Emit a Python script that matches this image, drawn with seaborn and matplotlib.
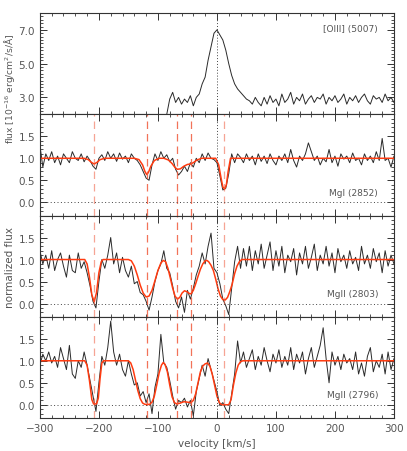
import numpy as np
import pandas as pd
import matplotlib
matplotlib.use("Agg")
import matplotlib.pyplot as plt
from matplotlib.ticker import MultipleLocator
import seaborn as sns

# velocity grid of the normalized spectra (km/s)
vel = np.arange(-300, 301, 5)

# [OIII] 5007 flux, starts at -85 km/s
oiii_v = np.arange(-85, 301, 5)
oiii_flux = [2.0, 2.9, 3.3, 2.7, 3.0, 2.6, 2.9, 2.7, 3.1, 2.5, 3.0, 3.2, 3.8, 4.2, 5.2, 6.0, 6.8, 7.0,
             6.7, 6.4, 5.8, 5.0, 4.3, 3.8, 3.5, 3.3, 3.1, 2.9, 2.8, 2.6, 3.0, 2.7, 2.5, 3.0, 2.6, 3.1,
             2.7, 2.9, 2.5, 3.2, 2.7, 2.9, 3.3, 2.6, 3.0, 2.8, 3.2, 2.6, 2.9, 3.1, 2.7, 3.0, 2.9, 3.2,
             2.6, 3.0, 2.8, 3.1, 2.7, 2.9, 3.2, 2.6, 3.0, 2.8, 3.1, 2.7, 3.0, 3.2, 2.8, 2.6, 3.1, 2.9,
             3.0, 2.7, 3.2, 2.8, 3.0, 2.7]

mgi_flux = [1.3, 0.8, 1.1, 0.95, 1.15, 0.9, 1.05, 0.85, 1.1, 1.0, 0.9, 1.15, 1.0, 0.95, 1.1, 0.92,
            1.05, 0.95, 0.82, 0.75, 1.0, 1.08, 0.95, 1.15, 1.0, 1.1, 0.93, 1.12, 0.98, 1.05, 0.9, 1.1,
            1.0, 0.95, 0.85, 0.7, 0.55, 0.5, 0.85, 1.1, 0.95, 1.15, 1.0, 1.08, 0.92, 1.0, 0.75, 0.62,
            0.7, 0.82, 0.7, 0.9, 0.8, 1.0, 0.9, 1.1, 0.95, 1.12, 1.0, 0.97, 0.9, 0.6, 0.28, 0.32,
            0.65, 1.1, 0.9, 1.1, 1.02, 0.9, 1.1, 0.95, 1.05, 0.85, 1.1, 0.93, 1.05, 0.88, 1.1, 0.95,
            0.85, 1.05, 0.95, 1.1, 0.9, 1.2, 0.95, 0.8, 1.05, 0.95, 1.1, 1.35, 1.15, 0.95, 1.05, 0.85,
            1.0, 0.92, 1.2, 0.9, 1.05, 0.82, 1.1, 0.98, 1.05, 0.9, 1.12, 0.95, 1.0, 0.85, 1.1, 0.95,
            1.05, 0.9, 1.15, 0.95, 1.45, 0.95, 1.0, 0.8, 1.05]

mgii2803_flux = [1.2, 0.9, 1.1, 0.8, 1.2, 0.75, 1.0, 1.15, 0.85, 0.6, 1.1, 0.75, 0.7, 1.15, 0.8, 0.95,
                 0.7, 0.4, 0.05, -0.1, 0.5, 1.0, 0.8, 1.1, 1.5, 0.9, 1.15, 0.7, 1.05, 0.75, 0.6, 0.85,
                 0.45, 0.5, 0.25, 0.2, 0.05, -0.15, 0.15, 0.5, 0.75, 0.9, 1.2, 0.8, 0.7, 0.4, 0.05, -0.1,
                 0.15, -0.2, 0.3, 0.1, 0.35, 0.65, 0.85, 1.15, 0.9, 1.3, 1.6, 0.8, 0.7, 0.45, 0.1, -0.05,
                 -0.25, 0.35, 0.95, 1.3, 0.8, 1.25, 0.85, 1.3, 0.75, 1.2, 0.9, 1.35, 0.8, 1.1, 1.4, 0.75,
                 1.2, 0.85, 1.3, 0.7, 1.1, 0.95, 1.25, 0.65, 1.15, 0.9, 1.3, 0.8, 1.05, 1.35, 0.75, 1.1,
                 0.9, 1.3, 0.85, 1.15, 0.7, 1.25, 0.95, 1.1, 0.8, 1.2, 0.9, 1.05, 0.75, 1.3, 0.9, 1.1,
                 0.8, 1.25, 0.95, 1.15, 0.7, 1.2, 0.85, 1.1, 0.9]

mgii2796_flux = [0.9, 1.15, 1.0, 1.2, 0.95, 1.1, 0.85, 1.3, 1.05, 0.8, 1.35, 0.7, 0.6, 1.0, 0.85, 1.2,
                 0.9, 0.55, 0.2, -0.15, 0.5, 1.1, 0.9, 1.3, 1.9, 1.2, 0.9, 1.15, 0.8, 0.65, 1.0, 0.7,
                 0.45, 0.5, 0.2, 0.3, 0.05, 0.25, -0.2, 0.4, 0.7, 1.6, 0.95, 0.85, 0.55, 0.2, -0.1, 0.1,
                 0.05, 0.15, -0.05, 0.1, -0.25, 0.3, 0.6, 0.9, 0.65, 1.05, 0.8, 0.55, 0.3, -0.02, 0.05, -0.1,
                 -0.2, 0.25, 0.7, 1.45, 0.95, 1.2, 0.85, 1.05, 1.25, 0.8, 1.1, 0.9, 1.3, 1.0, 0.75, 1.15,
                 0.95, 1.25, 0.85, 1.1, 0.9, 1.3, 0.8, 1.15, 0.95, 1.2, 0.7, 1.05, 1.3, 0.85, 1.1, 1.35,
                 1.75, 1.05, 0.5, 1.2, 0.9, 1.1, 0.8, 1.15, 0.95, 1.05, 0.8, 1.2, 0.7, 0.95, 0.65, 1.1,
                 1.3, 0.75, 1.0, 0.85, 1.15, 0.7, 1.2, 0.8, 1.05]

# model fits
mgi_fit_v = [-300, -225, -218, -213, -208, -203, -198, -190, -140, -132, -126, -122, -119, -116, -112,
             -106, -98, -90, -82, -76, -71, -67, -62, -56, -50, -45, -40, -34, -26, -2, 3, 7, 10, 13,
             16, 19, 23, 300]
mgi_fit = [1.0, 1.0, 0.97, 0.91, 0.87, 0.91, 0.97, 1.0, 1.0, 0.97, 0.85, 0.70, 0.63, 0.68, 0.82,
           0.95, 1.0, 1.0, 0.96, 0.88, 0.79, 0.75, 0.76, 0.82, 0.86, 0.87, 0.90, 0.96, 1.0, 1.0, 0.85,
           0.55, 0.35, 0.30, 0.40, 0.70, 1.0, 1.0]

mgii2803_fit_v = [-300, -224, -220, -216, -212, -208, -204, -200, -196, -193, -150, -145, -140, -135,
                  -130, -125, -120, -115, -110, -105, -100, -95, -91, -87, -83, -79, -75, -71, -67,
                  -63, -59, -55, -51, -47, -44, -40, -36, -32, -28, -24, -20, -17, -14, -10, -6, -2,
                  2, 6, 10, 14, 18, 22, 26, 30, 34, 38, 42, 300]
mgii2803_fit = [1.0, 1.0, 0.9, 0.6, 0.2, 0.04, 0.25, 0.7, 0.95, 1.0, 1.0, 0.97, 0.85, 0.65,
                0.42, 0.24, 0.15, 0.17, 0.3, 0.52, 0.75, 0.92, 0.98, 0.95, 0.8, 0.58, 0.35, 0.17, 0.1,
                0.14, 0.24, 0.29, 0.27, 0.23, 0.22, 0.3, 0.45, 0.62, 0.78, 0.9, 0.97, 0.98, 0.95, 0.87,
                0.75, 0.55, 0.33, 0.17, 0.09, 0.08, 0.14, 0.28, 0.45, 0.68, 0.85, 0.95, 1.0, 1.0]

mgii2796_fit_v = [-300, -224, -220, -216, -212, -209, -204, -201, -198, -195, -192, -150, -146, -142,
                  -138, -134, -130, -126, -122, -114, -110, -106, -102, -98, -94, -91, -88, -84, -80,
                  -76, -72, -68, -62, -56, -50, -44, -40, -36, -32, -28, -24, -20, -16, -12, -8, -4,
                  0, 4, 8, 20, 24, 28, 32, 36, 40, 44, 300]
mgii2796_fit = [1.0, 1.0, 0.9, 0.55, 0.12, 0.02, 0.02, 0.15, 0.6, 0.95, 1.0, 1.0, 0.95, 0.8,
                0.56, 0.32, 0.14, 0.04, 0.01, 0.01, 0.06, 0.2, 0.45, 0.72, 0.9, 0.96, 0.92, 0.75, 0.45,
                0.18, 0.05, 0.02, 0.04, 0.07, 0.06, 0.05, 0.1, 0.25, 0.5, 0.75, 0.88, 0.93, 0.95, 0.88,
                0.7, 0.45, 0.2, 0.05, 0.0, 0.0, 0.12, 0.45, 0.72, 0.9, 0.98, 1.0, 1.0]

components = [-208, -119, -67, -44, 12]
comp_alpha = [0.55, 0.85, 0.85, 0.85, 0.55]

line_names = ["MgI (2852)", "MgII (2803)", "MgII (2796)"]

sns.set_style("ticks")
plt.rcParams["font.family"] = ["DejaVu Sans"]
grey = "#555555"
plt.rcParams.update({
    "axes.edgecolor": "#333333",
    "axes.linewidth": 0.8,
    "xtick.color": "#333333",
    "ytick.color": "#333333",
    "xtick.labelcolor": grey,
    "ytick.labelcolor": grey,
    "xtick.labelsize": 7.5,
    "ytick.labelsize": 7.5,
})

fig, axes = plt.subplots(4, 1, figsize=(4.07, 4.52), dpi=100, sharex=True)
fig.subplots_adjust(left=0.098, right=0.968, top=0.969, bottom=0.073, hspace=0)

spec_col = "#2a2a2a"
fit_col = "#ff3b10"

# top panel: [OIII]
ax = axes[0]
df = pd.DataFrame({"v": oiii_v, "f": oiii_flux})
sns.lineplot(data=df, x="v", y="f", ax=ax, color=spec_col, lw=0.7)
ax.set_ylim(2.0, 8.0)
ax.yaxis.set_minor_locator(MultipleLocator(0.2))
ax.set_yticks([3, 5, 7])
ax.set_yticklabels(["3.0", "5.0", "7.0"])
ax.axvline(0, color="#444444", ls=(0, (1, 2)), lw=0.7)
ax.text(0.955, 0.85, "[OIII] (5007)", transform=ax.transAxes, ha="right", va="center",
        fontsize=6.5, color=grey)
ax.set_ylabel("flux [10$^{-16}$ erg/cm$^2$/s/Å]", fontsize=6.6, color=grey)
ax.yaxis.set_label_coords(-0.066, 0.26)

spectra = [mgi_flux, mgii2803_flux, mgii2796_flux]
fits = [(mgi_fit_v, mgi_fit), (mgii2803_fit_v, mgii2803_fit), (mgii2796_fit_v, mgii2796_fit)]

for k in range(3):
    ax = axes[k + 1]
    df = pd.DataFrame({"v": vel, "f": spectra[k]})
    sns.lineplot(data=df, x="v", y="f", ax=ax, color=spec_col, lw=0.7)
    fv, ff = fits[k]
    sns.lineplot(x=fv, y=ff, ax=ax, color=fit_col, lw=1.1)
    for c, a in zip(components, comp_alpha):
        ax.axvline(c, color="#f05a3c", alpha=a, ls=(0, (6, 4)), lw=0.9)
    ax.axvline(0, color="#444444", ls=(0, (1, 2)), lw=0.7)
    ax.axhline(0, color="#444444", ls=(0, (1, 2.5)), lw=0.7)
    ax.set_ylim(-0.3, 2.0)
    ax.set_yticks([0.0, 0.5, 1.0, 1.5])
    ax.set_yticklabels(["0.0", "0.5", "1.0", "1.5"])
    ax.yaxis.set_minor_locator(MultipleLocator(0.1))
    ax.text(0.955, 0.23, line_names[k], transform=ax.transAxes, ha="right", va="center",
            fontsize=6.5, color=grey)
    ax.set_ylabel("")

axes[2].set_ylabel("normalized flux", fontsize=7.5, color=grey)
axes[2].yaxis.set_label_coords(-0.07, 0.5)

for ax in axes:
    ax.set_xlim(-300, 300)
    ax.xaxis.set_major_locator(MultipleLocator(100))
    ax.xaxis.set_minor_locator(MultipleLocator(20))
    ax.tick_params(which="both", direction="in", top=True, right=True)
    ax.tick_params(which="major", length=5, width=0.7)
    ax.tick_params(which="minor", length=2.5, width=0.6)
    ax.set_xlabel("")

axes[-1].set_xlabel("velocity [km/s]", fontsize=7.5, color=grey)

fig.savefig("out.png", dpi=100)
